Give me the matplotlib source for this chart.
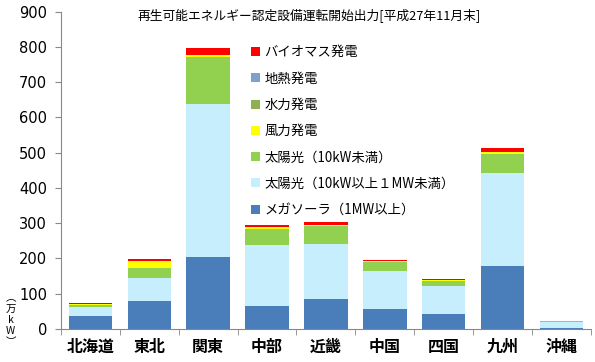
import matplotlib.pyplot as plt
import numpy as np

plt.rcParams['font.family'] = ['Noto Sans CJK JP', 'DejaVu Sans']

# regions
regions = ['北海道', '東北', '関東', '中部', '近畿', '中国', '四国', '九州', '沖縄']

# stacked values (万kW), bottom to top
mega = [38, 80, 204, 66, 85, 56, 42, 179, 2]
solar_mid = [24, 66, 433, 172, 155, 108, 80, 263, 17]
solar_small = [5, 27, 135, 47, 53, 27, 14, 54, 3]
wind = [4, 19, 5, 4, 2, 1, 2, 5, 0.5]
hydro = [1, 1, 1, 1, 0.5, 0.5, 1, 1, 0]
geo = [0, 0.5, 0, 0, 0, 0, 0, 1, 0]
bio = [2, 4, 18, 4, 7, 3, 3, 10, 0]

names = ['メガソーラ（1MW以上）', '太陽光（10kW以上１MW未満）', '太陽光（10kW未満）',
         '風力発電', '水力発電', '地熱発電', 'バイオマス発電']
series = [mega, solar_mid, solar_small, wind, hydro, geo, bio]
colors = ['#4A7EBB', '#C6EEFD', '#92D050', '#FFFF00', '#8FB050', '#7F9FCF', '#FF0000']

fig = plt.figure(figsize=(5.95, 3.62), dpi=100)
ax = fig.add_axes([0.1025, 0.0912, 0.8905, 0.8764])

x = np.arange(len(regions))
bottom = np.zeros(len(regions))
handles = []
for vals, name, c in zip(series, names, colors):
    b = ax.bar(x, vals, 0.74, bottom=bottom, color=c, label=name, linewidth=0)
    handles.append(b)
    bottom += np.array(vals)

ax.set_xlim(-0.5, len(regions) - 0.5)
ax.set_ylim(0, 900)
ax.set_yticks(range(0, 901, 100))
ax.set_yticklabels([str(v) for v in range(0, 901, 100)], family='DejaVu Sans', fontsize=10.5)
ax.set_xticks(x)
ax.set_xticklabels(regions, fontsize=11.5, fontweight='bold')
ax.set_xticks(np.arange(-0.5, len(regions), 1), minor=True)
ax.tick_params(axis='x', which='major', length=0, pad=7)
ax.tick_params(axis='x', which='minor', length=4, color='#888888')
ax.tick_params(axis='y', length=4, color='#888888', pad=6)

for s in ['top', 'right']:
    ax.spines[s].set_visible(False)
for s in ['left', 'bottom']:
    ax.spines[s].set_color('#888888')

fig.text(0.52, 0.955, '再生可能エネルギー認定設備運転開始出力[平成27年11月末]',
         ha='center', va='center', fontsize=9.2)

# vertical unit label
unit_chars = ['︵', '万', 'k', 'W', '︶']
for i, ch in enumerate(unit_chars):
    fig.text(0.018, 0.175 - i * 0.03, ch, ha='center', va='center', fontsize=7.5)

ax.legend(handles[::-1], names[::-1], loc='upper left', bbox_to_anchor=(0.422, 0.875),
          bbox_transform=fig.transFigure, frameon=False, fontsize=9.6,
          handlelength=0.65, handleheight=0.65, handletextpad=0.35, labelspacing=0.92,
          borderpad=0, borderaxespad=0)

fig.savefig('out.png', dpi=100)
